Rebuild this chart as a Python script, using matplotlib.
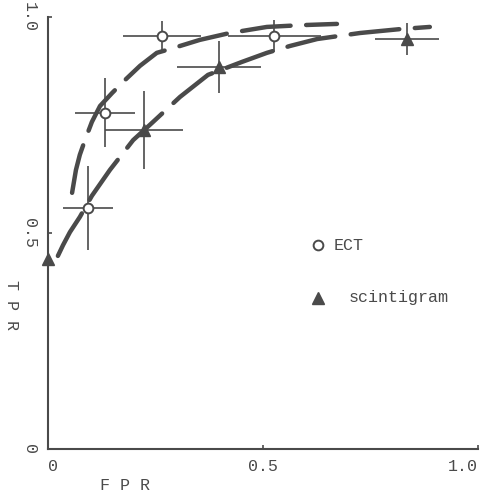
import matplotlib
matplotlib.use('Agg')
import matplotlib.pyplot as plt

plt.rcParams['font.family'] = ['Liberation Mono', 'DejaVu Sans Mono']

INK = '#4a4a4a'

# ECT operating points (FPR, TPR) with error half-widths
ect_fpr = [0.093, 0.133, 0.265, 0.526]
ect_tpr = [0.558, 0.778, 0.956, 0.956]
ect_fpr_err = [0.059, 0.070, 0.090, 0.108]
ect_tpr_err = [0.098, 0.080, 0.035, 0.037]

# scintigram operating points
sci_fpr = [0.0, 0.223, 0.398, 0.835]
sci_tpr = [0.44, 0.738, 0.884, 0.949]
sci_fpr_err = [0.0, 0.090, 0.098, 0.075]
sci_tpr_err = [0.0, 0.090, 0.060, 0.038]

# hand drawn ROC curves
ect_curve_fpr = [0.056, 0.065, 0.074, 0.086, 0.102, 0.121, 0.149, 0.179,
                 0.214, 0.253, 0.291, 0.353, 0.423, 0.509, 0.586, 0.672]
ect_curve_tpr = [0.593, 0.646, 0.681, 0.715, 0.757, 0.794, 0.824, 0.854,
                 0.887, 0.917, 0.928, 0.947, 0.963, 0.977, 0.981, 0.984]

sci_curve_fpr = [0.023, 0.035, 0.051, 0.074, 0.102, 0.144, 0.198, 0.242,
                 0.307, 0.372, 0.451, 0.509, 0.563, 0.626, 0.726, 0.819, 0.888]
sci_curve_tpr = [0.447, 0.472, 0.502, 0.537, 0.586, 0.646, 0.715, 0.755,
                 0.815, 0.866, 0.896, 0.917, 0.933, 0.949, 0.963, 0.972, 0.977]

ticks = [0, 0.5, 1.0]
x_tick_labels = ['0', '0.5', '1.0']
y_tick_labels = ['0', '0.5', '1.0']

fig = plt.figure(figsize=(4.89, 4.95), dpi=100)
ax = fig.add_axes([48 / 489, 46 / 495, 430 / 489, 432 / 495])
ax.set_xlim(0, 1)
ax.set_ylim(0, 1)

for s in ['top', 'right']:
    ax.spines[s].set_visible(False)
for s in ['left', 'bottom']:
    ax.spines[s].set_color(INK)
    ax.spines[s].set_linewidth(1.5)

ax.plot(ect_curve_fpr, ect_curve_tpr, color=INK, lw=3.2,
        dashes=(11, 3.5), dash_capstyle='round')
ax.plot(sci_curve_fpr, sci_curve_tpr, color=INK, lw=3.2,
        dashes=(11, 3.5), dash_capstyle='round')

ax.errorbar(ect_fpr, ect_tpr, xerr=ect_fpr_err, yerr=ect_tpr_err,
            fmt='o', ms=7, mfc='white', mec=INK, mew=1.4,
            ecolor=INK, elinewidth=1.2, capsize=0, zorder=5, clip_on=False)
ax.errorbar(sci_fpr, sci_tpr, xerr=sci_fpr_err, yerr=sci_tpr_err,
            fmt='^', ms=8, mfc=INK, mec=INK,
            ecolor=INK, elinewidth=1.2, capsize=0, zorder=5, clip_on=False)

# legend drawn as in the original figure
ax.plot([0.628], [0.472], 'o', ms=7, mfc='white', mec=INK, mew=1.4)
ax.text(0.665, 0.472, 'ECT', fontsize=12, color=INK, va='center')
ax.plot([0.628], [0.350], '^', ms=8, mfc=INK, mec=INK)
ax.text(0.70, 0.350, 'scintigram', fontsize=12, color=INK, va='center')

ax.set_xticks(ticks)
ax.set_xticklabels(x_tick_labels, fontsize=12, color=INK)
ax.set_yticks(ticks)
ax.set_yticklabels(y_tick_labels, fontsize=12, color=INK, rotation=-90,
                   va='center')
ax.tick_params(direction='in', length=3, color=INK, width=1.2)
ax.tick_params(axis='x', pad=7)
ax.tick_params(axis='y', pad=8)
ax.get_xticklabels()[0].set_ha('left')
ax.get_xticklabels()[2].set_ha('right')
ax.get_xticklabels()[2].set_x(1.015)

ax.set_xlabel('F P R', fontsize=12, color=INK)
ax.xaxis.set_label_coords(0.18, -0.066)
ax.set_ylabel('T P R', fontsize=12, color=INK, rotation=-90, va='center')
ax.yaxis.set_label_coords(-0.084, 0.333)

fig.savefig('out.png', dpi=100)
